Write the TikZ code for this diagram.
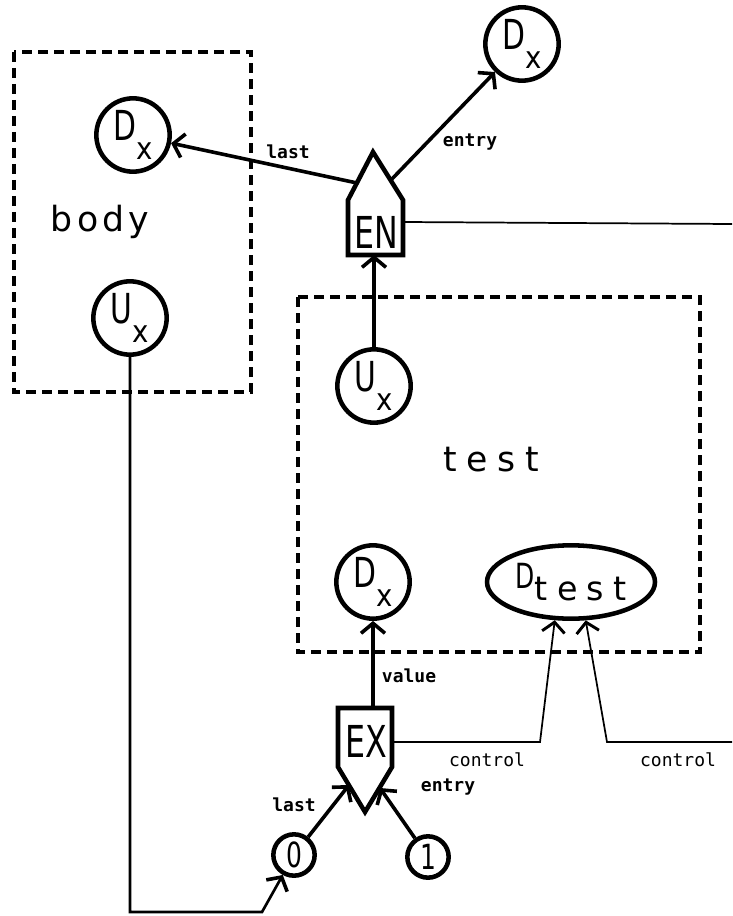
\documentclass[tikz,border=0pt]{standalone}
\usepackage{fontspec}
\usetikzlibrary{arrows.meta,shapes.geometric}
\newfontfamily\hw[FakeStretch=0.72]{DejaVu Sans}
\newfontfamily\hx[FakeStretch=0.9]{DejaVu Sans}
\newfontfamily\widefont[LetterSpace=12]{DejaVu Sans}
\newfontfamily\widerfont[LetterSpace=28]{DejaVu Sans}
\newfontfamily\lblfont{DejaVu Sans Mono}
\newcommand{\mylbl}[2]{{\fontsize{31}{31}\selectfont\hw #1}\raisebox{-14pt}{\fontsize{23}{23}\selectfont\hx #2}}
\begin{document}
\begin{tikzpicture}[x=0.75pt,y=-0.75pt,
  circ/.style={circle,draw,line width=3.4pt,minimum size=55pt,inner sep=0pt},
  scirc/.style={circle,draw,line width=3.4pt,minimum size=31pt,inner sep=0pt,font=\fontsize{26}{26}\selectfont\hw},
  arr/.style={line width=2.7pt,-{Straight Barb[length=7.5pt,width=18pt]}},
  midarr/.style={line width=2pt,-{Straight Barb[length=7.5pt,width=18pt,line width=2.7pt]}},
  thinarr/.style={line width=1.3pt,-{Straight Barb[length=7.5pt,width=17pt,line width=2.2pt]}},
  dashbox/.style={draw,line width=3pt,dash pattern=on 7.5pt off 4.5pt},
  boldlbl/.style={font=\fontsize{13.5}{13.5}\selectfont\lblfont\bfseries,inner sep=0pt},
  thinlbl/.style={font=\fontsize{13.5}{13.5}\selectfont\lblfont,inner sep=0pt},
  bigword/.style={inner sep=0pt},
  shapeline/.style={line width=3.4pt,line join=miter}]
\useasboundingbox (0,0) rectangle (732,916);

% dashed boxes
\draw[dashbox] (14,52) rectangle (251,392);
\draw[dashbox] (298,297) rectangle (700,652);

\node[bigword] (bodyt) at (100,222) {\fontsize{26}{26}\selectfont\widefont body};
\node[bigword] (testt) at (491,460) {\fontsize{26}{26}\selectfont\widerfont test};

% circles
\node[circ] (dxb) at (133,135) {\mylbl{D}{x}};
\node[circ] (uxb) at (130,318) {\mylbl{U}{x}};
\node[circ] (dxtop) at (522,44) {\mylbl{D}{x}};
\node[circ] (uxt) at (374,386) {\mylbl{U}{x}};
\node[circ] (dxt) at (373,582) {\mylbl{D}{x}};
\node[ellipse,draw,line width=3.4pt,minimum width=126pt,minimum height=55pt,inner sep=0pt] (dtest) at (571,582)
  {\raisebox{9pt}{\fontsize{26}{26}\selectfont\hw D}{\fontsize{25}{25}\selectfont\widerfont test}};
\node[scirc] (c0) at (294,855) {0};
\node[scirc] (c1) at (428,857) {1};

% EN shape
\draw[shapeline] (348,255) -- (348,200) -- (373,152) -- (403,200) -- (403,255) -- cycle;
\node[inner sep=0pt] (en) at (376,232) {\fontsize{33}{33}\selectfont\hw EN};
\coordinate (enL) at (357,183);
\coordinate (enR) at (391,180);
\coordinate (enB) at (374,255);
\coordinate (enE) at (403,222);
\coordinate (enEdge) at (732,224);

% EX shape
\draw[shapeline] (338,708) -- (392,708) -- (392,767) -- (365,812) -- (338,767) -- cycle;
\node[inner sep=0pt] (ex) at (366,741) {\fontsize{33}{33}\selectfont\hw EX};
\coordinate (exT) at (373,708);
\coordinate (exE) at (392,742);
\coordinate (exBL) at (349,785);
\coordinate (exBR) at (380,788);

% connectors
\draw[arr] (enL) -- (dxb);
\draw[arr] (enR) -- (dxtop);
\draw[line width=1.3pt] (enE) -- (enEdge);
\draw[arr] (uxt) -- (enB);
\draw[arr] (exT) -- (dxt);
\draw[arr] (c0) -- (exBL);
\draw[arr] (c1) -- (exBR);

\coordinate (k1) at (540,742);
\coordinate (k2) at (607,742);
\coordinate (kEdge) at (732,742);
\draw[thinarr] (exE) -- (k1) -- (dtest.247);
\draw[thinarr] (kEdge) -- (k2) -- (dtest.291);

\coordinate (p1) at (130,912);
\coordinate (p2) at (262,912);
\draw[midarr] (uxb.south) -- (p1) -- (p2) -- (c0);

% labels
\node[boldlbl] (llast) at (288,152) {last};
\node[boldlbl] (lentry) at (470,142) {entry};
\node[boldlbl] (lvalue) at (409,676) {value};
\node[boldlbl] (llast2) at (294,805) {last};
\node[boldlbl] (lentry2) at (448,787) {entry};
\node[thinlbl] (lc1) at (487,760) {control};
\node[thinlbl] (lc2) at (678,760) {control};
\end{tikzpicture}
\end{document}
